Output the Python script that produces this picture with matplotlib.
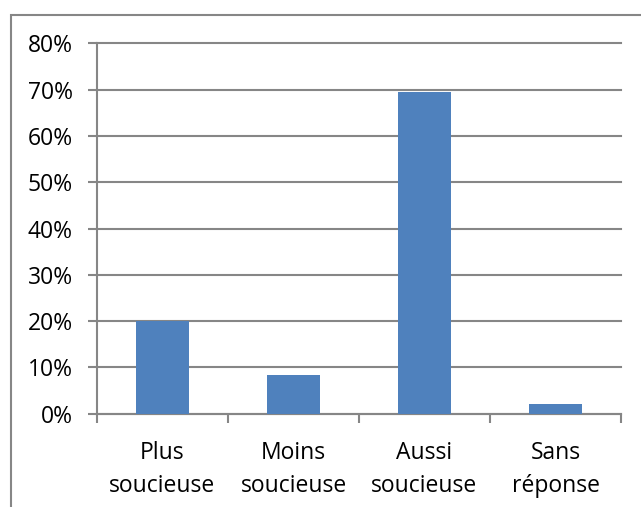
import numpy as np
import matplotlib.pyplot as plt
from matplotlib.patches import Rectangle

# donnees
categories = ['Plus\nsoucieuse', 'Moins\nsoucieuse', 'Aussi\nsoucieuse', 'Sans\nréponse']
valeurs = [20.0, 8.3, 69.5, 2.2]
yticks = [0, 10, 20, 30, 40, 50, 60, 70, 80]

gris = '#868686'
bleu = '#4F81BD'

plt.rcParams['font.family'] = ['Open Sans', 'DejaVu Sans']

fig = plt.figure(figsize=(6.41, 5.07), dpi=100)
W, H = 641, 507

# cadre exterieur du graphique
fig.patches.append(Rectangle((11 / W, -0.1), 1.2, 1 - 15 / H + 0.1, transform=fig.transFigure,
                             fill=False, edgecolor=gris, linewidth=1.5))

ax = fig.add_axes([97 / W, 1 - 413.7 / H, 524 / W, (413.7 - 43.5) / H])

x = np.arange(len(categories))
ax.bar(x, valeurs, width=0.4, color=bleu, zorder=3)

ax.set_xlim(-0.5, len(categories) - 0.5)
ax.set_ylim(0, 80)
ax.set_yticks(yticks)
ax.set_yticklabels([f'{v}%' for v in yticks], fontsize=16.5)
ax.yaxis.grid(True, color=gris, linewidth=1.5, zorder=0)
for l in ax.get_ygridlines():
    l.set_clip_on(False)

ax.set_xticks(x)
ax.set_xticklabels(categories, fontsize=16.5, linespacing=1.45)
ax.set_xticks(np.arange(-0.5, len(categories)), minor=True)

ax.tick_params(axis='x', which='major', length=0, pad=20)
ax.tick_params(axis='x', which='minor', length=6.5, width=1.5, color=gris, direction='out')
ax.tick_params(axis='y', length=6.5, width=1.5, color=gris, pad=11)

for s in ['top', 'right']:
    ax.spines[s].set_visible(False)
for s in ['left', 'bottom']:
    ax.spines[s].set_color(gris)
    ax.spines[s].set_linewidth(1.5)

plt.savefig('out.png', dpi=100)
